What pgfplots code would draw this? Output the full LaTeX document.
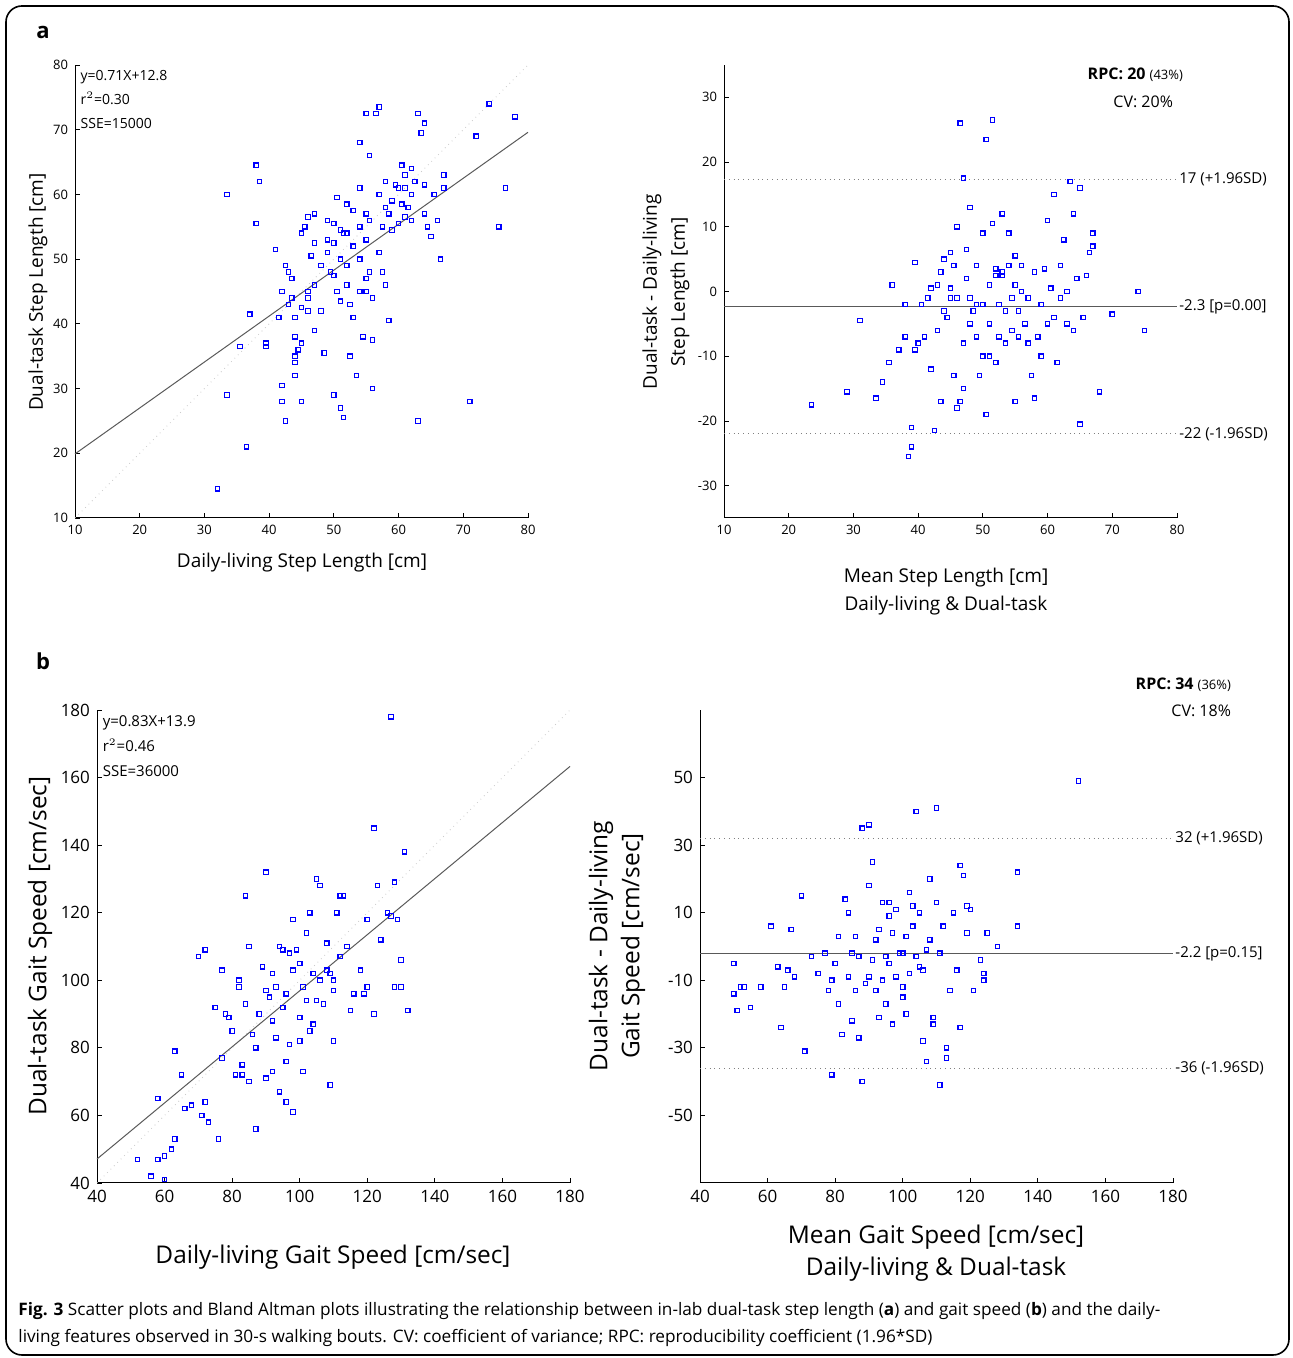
\documentclass[border=0pt]{standalone}
\usepackage{pgfplots}
\pgfplotsset{compat=1.18}
\usepackage{fontspec}
\setmainfont{Open Sans}
\begin{document}
\begin{tikzpicture}[x=0.5pt,y=0.5pt]
\useasboundingbox (0,0) rectangle (1292,1358);
\draw[rounded corners=8pt, line width=0.8pt] (6,3) rectangle (1289,1352);
\pgfplotsset{
  every axis/.append style={scale only axis, anchor=south west, axis lines*=left, clip=false,
    tick align=inside, major tick length=2.5pt, axis line style={line width=0.5pt},
    /pgf/number format/assume math mode=true, tick style={black,line width=0.4pt}},
  pts/.style={only marks, mark=square, mark size=1.1pt, color=blue, mark options={line width=0.6pt, draw=blue}},
}
% ---------- a left
\begin{axis}[at={(37.5pt,420pt)}, width=226.5pt, height=226.5pt, xmin=10,xmax=80,ymin=10,ymax=80,
  xtick={10,20,...,80}, ytick={10,20,...,80}, ticklabel style={font=\fontsize{6.5}{7}\selectfont}]
\addplot[gray!40, dotted, thin] coordinates {(10,10) (80,80)};
\addplot[gray!70!black, line width=0.5pt] coordinates {(10,19.9) (80,69.6)};
\addplot[pts] coordinates {(32,14.5)(33.5,29)(33.5,60)(35.5,36.5)(36.5,21)(37,41.5)(38,64.5)(38,55.5)(38.5,62)(39.5,37)(39.5,36.5)(41,51.5)(41.5,41)(42,45)(42,30.5)(42,28)(42.5,49)(42.5,25)(43,48)(43,43)(43.5,44)(43.5,47)(44,41)(44,38)(44,35)(44,34)(44.5,36)(45,54)(45,42.5)(45,37)(45,28)(45.5,55)(46,56.5)(46,45)(46,44)(46,42)(46.5,50.5)(47,52.5)(47,46)(47,39)(48,42)(48.5,35.5)(49,56)(49,53)(49,51)(49.5,48)(50,55.5)(50,52.5)(50,47.5)(50,29)(50.5,59.5)(50.5,45)(51,54.5)(51,50)(51,43.5)(51,27)(51.5,54)(51.5,25.5)(52,58.5)(52,54)(52,49)(52,46)(52.5,35)(52.5,43)(53,57.5)(53,52)(53,41)(53.5,32)(54,68)(54,61)(54,55)(54,50)(54,45)(54.5,38)(55,72.5)(55,57)(55,53)(55,47)(55,45)(55.5,66)(55.5,56)(55.5,48)(56,44)(56,37.5)(56,30)(56.5,72.5)(57,73.5)(57,60)(57,51)(57.5,55)(57.5,48)(58,62)(58,58)(58,46)(58.5,40.5)(59,54.5)(59,59)(59.5,61.5)(60,61)(60,55.5)(60.5,64.5)(61,63)(61,61)(61,56.5)(61.5,58)(62,64)(62,60)(62,56)(62.5,62)(63,72.5)(63,25)(63.5,69.5)(64,71)(64,61.5)(64,57)(64.5,55)(65,53.5)(65.5,60)(66,56)(66.5,50)(67,61)(67,63)(71,28)(72,69)(74,74)(75.5,55)(76.5,61)(78,72)(44,32)(47,57)(48,49)(58.5,57)(60.5,58.5)};
\node[anchor=north west, align=left, font=\fontsize{7}{12}\selectfont, inner sep=1pt] at (axis cs:10.5,79.5) {y=0.71X+12.8\\r$^2$=0.30\\SSE=15000};
\end{axis}
% ---------- a right
\begin{axis}[at={(362pt,420pt)}, width=226.5pt, height=226.5pt, xmin=10,xmax=80,ymin=-35,ymax=35,
  xtick={10,20,...,80}, ytick={-30,-20,...,30}, ticklabel style={font=\fontsize{6.5}{7}\selectfont}]
\addplot[gray, dotted, thin] coordinates {(10,17.3) (80,17.3)};
\addplot[gray, dotted, thin] coordinates {(10,-22) (80,-22)};
\addplot[gray!70!black, line width=0.5pt] coordinates {(10,-2.3) (80,-2.3)};
\addplot[pts] coordinates {(23.5,-17.5)(29,-15.5)(31,-4.5)(33.5,-16.5)(34.5,-14)(35.5,-11)(36,1)(37,-9)(38,-7)(38,-2)(38.5,-25.5)(39,-24)(39,-21)(39.5,-9)(39.5,4.5)(40,-8)(40.5,-2)(41,-7)(41.5,-1)(42,0.5)(42,-12)(42.5,-21.5)(43,-6)(43,1)(43.5,3)(43.5,-17)(44,-3)(44,5)(44.5,-4)(45,-1)(45,6)(45.5,4)(45.5,-13)(46,-18)(46,10)(46,-1)(46.5,26)(46.5,-17)(47,17.5)(47,-8)(47,-15)(47.5,2)(48,13)(48,-1)(48,-5)(48.5,-3)(49,4)(49,-7)(49.5,-13)(50,9)(50,-10)(50,-2)(50.5,23.5)(50.5,-19)(51,1)(51,-5)(51,-10)(51.5,26.5)(51.5,10.5)(52,-11)(52,3.5)(52.5,-2)(52.5,-7)(53,3)(53,2.5)(53,12)(53.5,-8)(53.5,-3)(54,4)(54,9)(54.5,-6)(54.5,-1)(55,1)(55,5.5)(55,-17)(55.5,-3)(56,0)(56,4)(56.5,-5)(57,-8)(57,-1)(57.5,-13)(58,3)(58,-16.5)(58.5,-7)(59,-2)(59,-10)(59.5,3.5)(60,-5)(60,11)(60.5,0.5)(61,15)(61,-4)(61.5,-11)(62,-1)(62,4)(62.5,8)(63,-5)(63,0)(63.5,17)(64,12)(64,-6)(64.5,2)(65,16)(65,-20.5)(65.5,-4)(66,2.5)(66.5,6)(67,9)(67,7)(68,-15.5)(70,-3.5)(74,0)(75,-6)(45,0.5)(47.5,6.5)(49,-2)(52,2.5)(55.5,-7)};
\node[anchor=west, font=\fontsize{7.5}{8}\selectfont, inner sep=1pt] at (axis cs:80,17.3) {17 (+1.96SD)};
\node[anchor=west, font=\fontsize{7.5}{8}\selectfont, inner sep=1pt] at (axis cs:80,-2.3) {-2.3 [p=0.00]};
\node[anchor=west, font=\fontsize{7.5}{8}\selectfont, inner sep=1pt] at (axis cs:80,-22) {-22 (-1.96SD)};
\end{axis}
% ---------- b left
\begin{axis}[at={(48.5pt,87.5pt)}, width=236.5pt, height=236.5pt, xmin=40,xmax=180,ymin=40,ymax=180,
  xtick={40,60,...,180}, ytick={40,60,...,180}, ticklabel style={font=\fontsize{8.5}{9}\selectfont}]
\addplot[gray!40, dotted, thin] coordinates {(40,40) (180,180)};
\addplot[gray!70!black, line width=0.5pt] coordinates {(40,47.1) (180,163.3)};
\addplot[pts] coordinates {(52,47)(56,42)(58,47)(58,65)(60,48)(60,41)(62,50)(63,53)(63,79)(65,72)(66,62)(68,63)(70,107)(71,60)(72,109)(72,64)(73,58)(75,92)(76,53)(77,103)(77,77)(78,90)(79,89)(80,85)(81,72)(82,100)(82,98)(83,75)(83,72)(84,125)(84,93)(85,70)(86,84)(87,56)(87,80)(88,90)(89,104)(90,71)(90,97)(90,132)(91,95)(92,102)(92,88)(93,83)(93,98)(94,67)(94,110)(95,92)(95,109)(96,96)(96,76)(97,81)(97,108)(98,61)(98,103)(98,118)(99,109)(100,105)(100,89)(101,98)(101,73)(102,114)(102,94)(103,120)(103,85)(104,102)(104,87)(105,94)(105,130)(106,128)(106,100)(107,93)(108,103)(108,111)(109,69)(109,102)(110,97)(110,82)(111,120)(112,107)(112,125)(113,125)(114,110)(115,91)(116,96)(118,103)(119,96)(120,98)(120,118)(122,90)(122,145)(123,128)(124,112)(126,120)(127,119)(127,178)(128,129)(128,98)(129,118)(130,106)(130,98)(131,138)(132,91)(92,73)(96,64)(100,82)(110,100)(85,110)(98,118)};
\node[anchor=north west, align=left, font=\fontsize{7.5}{12.5}\selectfont, inner sep=1pt] at (axis cs:41,179) {y=0.83X+13.9\\r$^2$=0.46\\SSE=36000};
\end{axis}
% ---------- b right
\begin{axis}[at={(350pt,87.5pt)}, width=236.5pt, height=236.5pt, xmin=40,xmax=180,ymin=-70,ymax=70,
  xtick={40,60,...,180}, ytick={-50,-30,...,50}, ticklabel style={font=\fontsize{8.5}{9}\selectfont}]
\addplot[gray, dotted, thin] coordinates {(40,32) (180,32)};
\addplot[gray, dotted, thin] coordinates {(40,-36) (180,-36)};
\addplot[gray!70!black, line width=0.5pt] coordinates {(40,-2.2) (180,-2.2)};
\addplot[pts] coordinates {(50,-5)(50,-14)(51,-19)(52,-12)(53,-12)(55,-18)(58,-12)(61,6)(63,-6)(64,-24)(65,-12)(66,-7)(67,5)(68,-9)(70,15)(71,-31)(73,-3)(75,-8)(77,-2)(78,-13)(79,-38)(79,-10)(80,-5)(81,-17)(81,3)(82,-26)(83,14)(84,-9)(84,10)(85,-22)(85,-2)(86,3)(86,-13)(87,-27)(87,-3)(88,35)(88,-40)(89,-11)(90,36)(90,18)(90,-9)(91,25)(91,-4)(92,-13)(92,2)(93,-21)(93,5)(94,-10)(94,13)(95,-3)(95,-17)(96,9)(96,-5)(97,4)(97,-23)(98,-9)(98,11)(99,-2)(100,-12)(100,-15)(101,3)(101,-20)(102,16)(102,-8)(103,6)(103,12)(104,40)(104,-3)(105,-6)(105,10)(106,-7)(106,-28)(107,-1)(107,-34)(108,20)(109,-21)(109,-23)(110,13)(110,41)(111,-41)(111,-2)(112,6)(113,-33)(113,-30)(114,-13)(115,10)(116,-7)(117,-24)(117,24)(118,21)(119,12)(119,4)(120,11)(121,-13)(123,-4)(124,-8)(124,-10)(125,4)(128,0)(134,22)(134,6)(152,49)(96,13)(100,-2)(108,2)};
\node[anchor=west, font=\fontsize{7.5}{8}\selectfont, inner sep=1pt] at (axis cs:180,32) {32 (+1.96SD)};
\node[anchor=west, font=\fontsize{7.5}{8}\selectfont, inner sep=1pt] at (axis cs:180,-2.2) {-2.2 [p=0.15]};
\node[anchor=west, font=\fontsize{7.5}{8}\selectfont, inner sep=1pt] at (axis cs:180,-36) {-36 (-1.96SD)};
\end{axis}
% ---------- texts
\node[font=\bfseries\fontsize{11}{12}\selectfont] at (43,1325) {a};
\node[font=\bfseries\fontsize{11}{12}\selectfont] at (43,697) {b};
\node[font=\fontsize{9.5}{10}\selectfont] at (302,795) {Daily-living Step Length [cm]};
\node[font=\fontsize{9.5}{10}\selectfont, rotate=90] at (38,1066) {Dual-task Step Length [cm]};
\node[font=\fontsize{9.5}{14}\selectfont, align=center] at (946,766) {Mean Step Length [cm]\\Daily-living \& Dual-task};
\node[font=\fontsize{9.5}{14}\selectfont, align=center, rotate=90] at (666,1066) {Dual-task - Daily-living\\Step Length [cm]};
\node[anchor=east, font=\fontsize{8}{8}\selectfont] at (1190,1283) {\textbf{RPC: 20} {\fontsize{6.5}{7}\selectfont(43\%)}};
\node[anchor=east, font=\fontsize{8}{8}\selectfont] at (1180,1256) {CV: 20\%};
\node[font=\fontsize{12.2}{13}\selectfont] at (333,101) {Daily-living Gait Speed [cm/sec]};
\node[font=\fontsize{12.2}{13}\selectfont, rotate=90] at (40,412) {Dual-task Gait Speed [cm/sec]};
\node[font=\fontsize{12.2}{16}\selectfont, align=center] at (936,105) {Mean Gait Speed [cm/sec]\\Daily-living \& Dual-task};
\node[font=\fontsize{12.2}{16}\selectfont, align=center, rotate=90] at (617,412) {Dual-task - Daily-living\\Gait Speed [cm/sec]};
\node[anchor=east, font=\fontsize{8}{8}\selectfont] at (1238,673) {\textbf{RPC: 34} {\fontsize{6.5}{7}\selectfont(36\%)}};
\node[anchor=east, font=\fontsize{8}{8}\selectfont] at (1238,647) {CV: 18\%};
\node[anchor=north west, align=left, font=\fontsize{8.6}{13.5}\selectfont, inner sep=0pt] at (18,56) {\textbf{Fig. 3} Scatter plots and Bland Altman plots illustrating the relationship between in-lab dual-task step length (\textbf{a}) and gait speed (\textbf{b}) and the daily-\\living features observed in 30-s walking bouts. CV: coefficient of variance; RPC: reproducibility coefficient (1.96*SD)};
\end{tikzpicture}
\end{document}
